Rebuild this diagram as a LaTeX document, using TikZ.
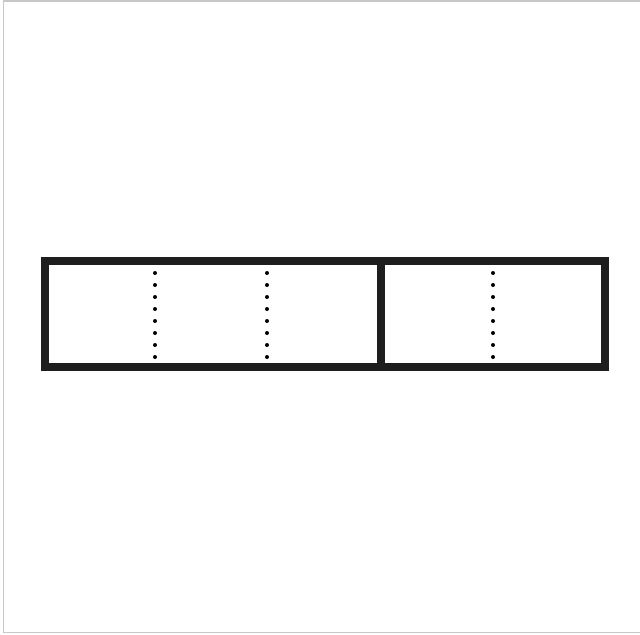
\documentclass[tikz,border=0pt]{standalone}
\usepackage{tikz}
\usetikzlibrary{calc}
\definecolor{framegray}{RGB}{200,200,200}
\definecolor{barblack}{RGB}{30,30,30}

\begin{document}
\begin{tikzpicture}[
    x=0.025cm, y=-0.025cm,
    frm/.style={draw=framegray, line width=1.5*0.025cm},
    bar/.style={draw=barblack, line width=8*0.025cm},
    dt/.style={fill=black, draw=none}
  ]
    \useasboundingbox (0,0) rectangle (640,634);
    % ---- outer frame ----
    \draw[frm] (640,0.75) -- (3.5,0.75) -- (3.5,632.5) -- (640,632.5);
    % ---- tape ----
    \draw[bar] (45,261) rectangle (605,367);
    \draw[bar] (381,261) -- (381,367);
    % ---- dotted columns ----
    \foreach \cx in {155,267,493}
      \foreach \k in {0,...,7}
        \fill[dt] (\cx,273+12*\k) circle[radius=2];
  \end{tikzpicture}
\end{document}
